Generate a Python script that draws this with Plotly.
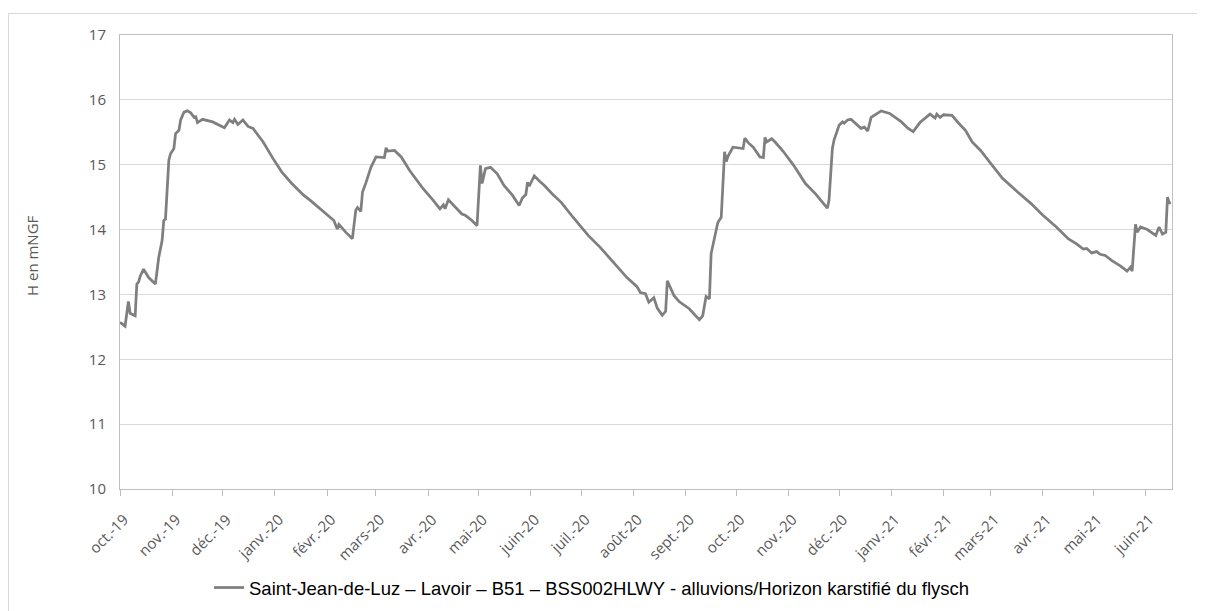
import plotly.graph_objects as go

# --- data ---
dates = [
    "2019-10-01", "2019-10-04", "2019-10-06", "2019-10-07", "2019-10-10", "2019-10-11",
    "2019-10-12", "2019-10-13", "2019-10-15", "2019-10-18", "2019-10-22", "2019-10-24",
    "2019-10-26", "2019-10-27", "2019-10-28", "2019-10-30", "2019-10-31", "2019-11-02",
    "2019-11-03", "2019-11-05", "2019-11-06", "2019-11-08", "2019-11-10", "2019-11-12",
    "2019-11-14", "2019-11-15", "2019-11-16", "2019-11-19", "2019-11-25", "2019-12-02",
    "2019-12-05", "2019-12-07", "2019-12-08", "2019-12-10", "2019-12-13", "2019-12-16",
    "2019-12-19", "2019-12-25", "2019-12-31", "2020-01-05", "2020-01-11", "2020-01-18",
    "2020-01-22", "2020-01-29", "2020-02-04", "2020-02-05", "2020-02-07", "2020-02-08",
    "2020-02-12", "2020-02-16", "2020-02-18", "2020-02-19", "2020-02-21", "2020-02-22",
    "2020-02-24", "2020-02-27", "2020-03-01", "2020-03-04", "2020-03-06", "2020-03-07",
    "2020-03-08", "2020-03-12", "2020-03-16", "2020-03-21", "2020-03-25", "2020-03-29",
    "2020-04-04", "2020-04-08", "2020-04-10", "2020-04-11", "2020-04-13", "2020-04-17",
    "2020-04-21", "2020-04-23", "2020-04-27", "2020-04-30", "2020-05-02", "2020-05-03",
    "2020-05-05", "2020-05-08", "2020-05-12", "2020-05-16", "2020-05-21", "2020-05-25",
    "2020-05-27", "2020-05-29", "2020-05-30", "2020-05-31", "2020-06-03", "2020-06-06",
    "2020-06-09", "2020-06-14", "2020-06-19", "2020-06-26", "2020-07-05", "2020-07-12",
    "2020-07-20", "2020-07-28", "2020-08-03", "2020-08-05", "2020-08-08", "2020-08-10",
    "2020-08-13", "2020-08-15", "2020-08-18", "2020-08-20", "2020-08-21", "2020-08-25",
    "2020-08-28", "2020-09-03", "2020-09-09", "2020-09-11", "2020-09-13", "2020-09-15",
    "2020-09-16", "2020-09-18", "2020-09-20", "2020-09-22", "2020-09-24", "2020-09-25",
    "2020-09-26", "2020-09-29", "2020-10-03", "2020-10-05", "2020-10-06", "2020-10-08",
    "2020-10-11", "2020-10-15", "2020-10-17", "2020-10-18", "2020-10-19", "2020-10-22",
    "2020-10-24", "2020-10-29", "2020-11-04", "2020-11-11", "2020-11-17", "2020-11-22",
    "2020-11-24", "2020-11-25", "2020-11-27", "2020-11-28", "2020-12-01", "2020-12-03",
    "2020-12-04", "2020-12-06", "2020-12-08", "2020-12-14", "2020-12-16", "2020-12-18",
    "2020-12-20", "2020-12-26", "2020-12-31", "2021-01-07", "2021-01-11", "2021-01-14",
    "2021-01-18", "2021-01-24", "2021-01-27", "2021-01-28", "2021-01-30", "2021-02-01",
    "2021-02-06", "2021-02-10", "2021-02-14", "2021-02-18", "2021-02-23", "2021-03-01",
    "2021-03-08", "2021-03-17", "2021-03-25", "2021-04-01", "2021-04-09", "2021-04-16",
    "2021-04-21", "2021-04-25", "2021-04-27", "2021-04-30", "2021-05-03", "2021-05-05",
    "2021-05-08", "2021-05-12", "2021-05-17", "2021-05-21", "2021-05-23", "2021-05-24",
    "2021-05-26", "2021-05-27", "2021-05-29", "2021-06-02", "2021-06-07", "2021-06-09",
    "2021-06-11", "2021-06-13", "2021-06-14", "2021-06-15", "2021-06-16",
]

levels = [
    12.57, 12.51, 12.89, 12.71, 12.67, 13.16,
    13.19, 13.28, 13.39, 13.26, 13.16, 13.57,
    13.83, 14.14, 14.16, 15.07, 15.17, 15.25,
    15.48, 15.53, 15.69, 15.81, 15.83, 15.80,
    15.73, 15.74, 15.65, 15.70, 15.66, 15.57,
    15.69, 15.65, 15.70, 15.62, 15.69, 15.59,
    15.56, 15.35, 15.09, 14.89, 14.71, 14.53,
    14.45, 14.30, 14.17, 14.14, 14.01, 14.08,
    13.96, 13.86, 14.30, 14.34, 14.28, 14.58,
    14.72, 14.96, 15.12, 15.12, 15.11, 15.26,
    15.21, 15.22, 15.12, 14.91, 14.76, 14.63,
    14.45, 14.32, 14.38, 14.32, 14.46, 14.35,
    14.24, 14.22, 14.14, 14.06, 14.99, 14.71,
    14.94, 14.96, 14.86, 14.68, 14.53, 14.37,
    14.49, 14.54, 14.73, 14.67, 14.83, 14.75,
    14.68, 14.54, 14.42, 14.19, 13.91, 13.73,
    13.50, 13.26, 13.12, 13.03, 13.01, 12.88,
    12.95, 12.79, 12.68, 12.74, 13.21, 12.98,
    12.89, 12.78, 12.61, 12.67, 12.97, 12.93,
    13.63, 13.88, 14.11, 14.19, 15.20, 15.05,
    15.13, 15.27, 15.26, 15.25, 15.41, 15.34,
    15.27, 15.12, 15.11, 15.42, 15.35, 15.40,
    15.35, 15.20, 14.99, 14.71, 14.55, 14.39,
    14.33, 14.45, 15.25, 15.38, 15.61, 15.66,
    15.64, 15.69, 15.70, 15.56, 15.58, 15.52,
    15.73, 15.83, 15.79, 15.66, 15.56, 15.51,
    15.65, 15.78, 15.72, 15.78, 15.73, 15.77,
    15.76, 15.64, 15.53, 15.35, 15.22, 15.02,
    14.79, 14.58, 14.40, 14.22, 14.04, 13.86,
    13.78, 13.70, 13.71, 13.64, 13.66, 13.62,
    13.60, 13.52, 13.44, 13.36, 13.42, 13.36,
    14.08, 13.96, 14.04, 14.00, 13.91, 14.04,
    13.93, 13.96, 14.50, 14.41, 14.41,
]

tick_dates = [
    "2019-10-01", "2019-11-01", "2019-12-01", "2020-01-01", "2020-02-01", "2020-03-01",
    "2020-04-01", "2020-05-01", "2020-06-01", "2020-07-01", "2020-08-01", "2020-09-01",
    "2020-10-01", "2020-11-01", "2020-12-01", "2021-01-01", "2021-02-01", "2021-03-01",
    "2021-04-01", "2021-05-01", "2021-06-01",
]
tick_labels = [
    "oct.-19", "nov.-19", "déc.-19", "janv.-20", "févr.-20", "mars-20",
    "avr.-20", "mai-20", "juin-20", "juil.-20", "août-20", "sept.-20",
    "oct.-20", "nov.-20", "déc.-20", "janv.-21", "févr.-21", "mars-21",
    "avr.-21", "mai-21", "juin-21",
]
y_ticks = [10, 11, 12, 13, 14, 15, 16, 17]

series_name = "Saint-Jean-de-Luz – Lavoir – B51 – BSS002HLWY - alluvions/Horizon karstifié du flysch"
y_title = "H en mNGF"

# --- figure ---
# the page places the figure 8 px in from the window's top-left corner
OFF = 8
W, H = 1205, 611
L, R, T, B = 112, 41, 27, 130
pw, ph = W - L - R, H - T - B

def px_x(p):
    # window pixel -> paper x
    return (p - OFF - L) / pw

def px_y(p):
    # window pixel -> paper y
    return (H - B - (p - OFF)) / ph

fig = go.Figure()
fig.add_trace(go.Scatter(
    x=dates, y=levels, mode="lines", name=series_name,
    line=dict(color="#7f7f7f", width=2.75),
))

tick_font = dict(family="Open Sans, sans-serif", size=15, color="#595959")

fig.update_layout(
    width=W, height=H,
    margin=dict(l=L, r=R, t=T, b=B, pad=0),
    paper_bgcolor="white", plot_bgcolor="white",
    showlegend=True,
    legend=dict(
        orientation="h", x=px_x(209), xanchor="left", y=px_y(588), yanchor="middle",
        font=dict(family="Liberation Sans, Arial, sans-serif", size=18.5, color="#000000"),
        bgcolor="rgba(0,0,0,0)", itemwidth=30,
    ),
    xaxis=dict(
        type="date", range=["2019-10-01", "2021-06-16 16:00"],
        tickmode="array", tickvals=tick_dates, ticktext=tick_labels,
        tickangle=-45, tickfont=tick_font,
        ticklabelstandoff=9, ticklabelshift=4,
        ticks="outside", ticklen=6, tickcolor="#bfbfbf", tickwidth=1,
        showgrid=False, zeroline=False,
        showline=True, linecolor="#bfbfbf", linewidth=1, mirror=True,
    ),
    yaxis=dict(
        range=[10, 17], tickmode="array", tickvals=y_ticks,
        tickfont=tick_font, ticks="", ticklabelstandoff=10,
        showgrid=True, gridcolor="#d9d9d9", gridwidth=1,
        zeroline=False,
        showline=True, linecolor="#bfbfbf", linewidth=1, mirror=True,
    ),
    annotations=[dict(
        text=y_title, textangle=-90, xref="paper", yref="paper",
        x=px_x(32), y=px_y(256), xanchor="center", yanchor="middle",
        showarrow=False, font=dict(family="Open Sans, sans-serif", size=15, color="#595959"),
    )],
    shapes=[dict(
        type="rect", xref="paper", yref="paper",
        x0=px_x(8.5), x1=px_x(1230), y0=px_y(640), y1=px_y(13.5),
        line=dict(color="#d9d9d9", width=1), fillcolor="rgba(0,0,0,0)", layer="below",
    )],
)

fig.write_html("out.html")
